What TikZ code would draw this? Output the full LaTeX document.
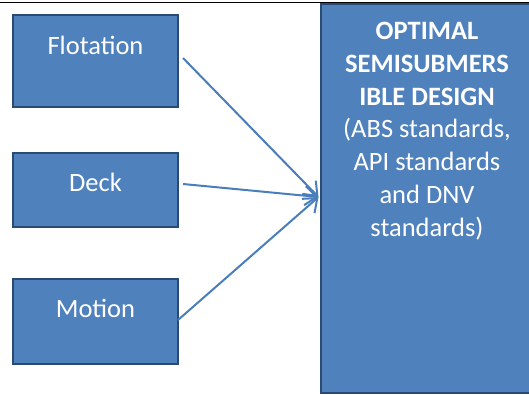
\documentclass[tikz,border=0pt]{standalone}
\usepackage{fontspec}
\setmainfont{Carlito}
\usetikzlibrary{arrows.meta}
\definecolor{boxfill}{HTML}{4F81BD}
\definecolor{boxline}{HTML}{2A4A73}
\definecolor{arrowblue}{HTML}{4A7EBB}
\tikzset{
  block/.style={draw=boxline, line width=2.4pt, fill=boxfill, inner sep=0pt},
  blocktext/.style={text=white, font=\fontsize{26.5}{32}\selectfont, inner sep=0pt},
  bigtext/.style={text=white, font=\fontsize{26.5}{32.8}\selectfont, align=center, inner sep=0pt, anchor=north},
  feed/.style={draw=arrowblue, line width=2pt, -{Straight Barb[length=12pt,width=19pt,line width=2pt]}}
}
\begin{document}
\begin{tikzpicture}[x=1pt,y=-1pt]
  \useasboundingbox (0,0) rectangle (529,394);
  % rule under the caption line
  \coordinate (ruleL) at (0,2.5);
  \coordinate (ruleR) at (529,2.5);
  \draw[line width=1.6pt] (ruleL) -- (ruleR);

  % input blocks
  \node[block, minimum width=165pt, minimum height=92pt] (flot) at (95.5,61) {};
  \node[block, minimum width=165pt, minimum height=74pt] (deck) at (95.5,190) {};
  \node[block, minimum width=165pt, minimum height=85pt] (motion) at (95.5,321.5) {};
  \node[blocktext] (flottxt) at (95.5,45) {Flotation};
  \node[blocktext] (decktxt) at (95.5,182) {Deck};
  \node[blocktext] (motiontxt) at (95.5,308) {Motion};

  % output block
  \node[block, minimum width=213pt, minimum height=389pt] (design) at (427.5,198.5) {};
  \node[bigtext] (designtxt) at (427,22) {\textbf{OPTIMAL}\\\textbf{SEMISUBMERS}\\\textbf{IBLE DESIGN}\\(ABS standards,\\API standards\\and DNV\\standards)};

  % connectors
  \coordinate (tip) at (318.5,197);
  \coordinate (s1) at (183,58);
  \coordinate (s2) at (183,184);
  \coordinate (s3) at (178,320);
  \draw[feed] (s1) -- (tip);
  \draw[feed] (s2) -- (tip);
  \draw[feed] (s3) -- (tip);
\end{tikzpicture}
\end{document}
